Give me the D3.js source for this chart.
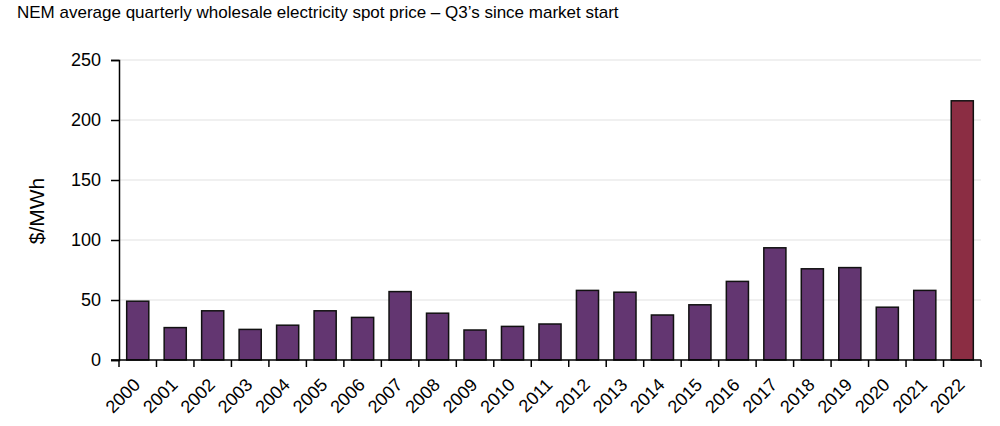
<!DOCTYPE html>
<html>
<head>
<meta charset="utf-8">
<script src="https://cdn.jsdelivr.net/npm/d3@7"></script>
<style>
  body { margin: 0; background: #fff; }
  text { font-family: "Liberation Sans", Arial, sans-serif; }
</style>
</head>
<body>
<script>
var svg_Width = 1000;
var svg_Height = 426;

// data
var years = ["2000", "2001", "2002", "2003", "2004", "2005", "2006", "2007", "2008", "2009", "2010", "2011",
  "2012", "2013", "2014", "2015", "2016", "2017", "2018", "2019", "2020", "2021", "2022"];
var prices = [49, 27, 41, 25.5, 29, 41, 35.5, 57, 39, 25, 28, 30,
  58, 56.5, 37.5, 46, 65.5, 93.5, 76, 77, 44, 58, 216];
var yTicks = [0, 50, 100, 150, 200, 250];

var margin = { top: 60, right: 19, bottom: 66, left: 119 };
var width = svg_Width - margin.left - margin.right;
var height = svg_Height - margin.top - margin.bottom;

var svg = d3.select("body")
  .append("svg")
  .attr("width", svg_Width)
  .attr("height", svg_Height);

// title
svg.append("text")
  .attr("x", 17)
  .attr("y", 18)
  .attr("font-size", "17px")
  .attr("fill", "#000")
  .text("NEM average quarterly wholesale electricity spot price \u2013 Q3\u2019s since market start");

var g = svg.append("g")
  .attr("transform", `translate(${margin.left}, ${margin.top})`);

var x = d3.scaleBand()
  .domain(years)
  .range([0, width])
  .paddingInner(0.41)
  .paddingOuter(0.205);

var y = d3.scaleLinear()
  .domain([0, 250])
  .range([height, 0]);

// gridlines
g.append("g")
  .selectAll("line")
  .data(yTicks.filter(d => d > 0))
  .enter()
  .append("line")
  .attr("x1", 0)
  .attr("x2", width)
  .attr("y1", d => y(d))
  .attr("y2", d => y(d))
  .attr("stroke", "#ebebeb")
  .attr("stroke-width", 1.5);

// bars
g.selectAll("rect.bar")
  .data(prices)
  .enter()
  .append("rect")
  .attr("class", "bar")
  .attr("x", (d, i) => x(years[i]))
  .attr("y", d => y(d))
  .attr("width", x.bandwidth())
  .attr("height", d => height - y(d))
  .attr("fill", (d, i) => years[i] === "2022" ? "#8b2d43" : "#633671")
  .attr("stroke", "#111")
  .attr("stroke-width", 1.5);

// y axis
var leftAxis = d3.axisLeft(y)
  .tickValues(yTicks)
  .tickSize(8)
  .tickPadding(10);

var yAxis = g.append("g").call(leftAxis);
yAxis.select(".domain").attr("stroke", "#000").attr("stroke-width", 1.5);
yAxis.selectAll(".tick line").attr("stroke", "#000").attr("stroke-width", 1.5);
yAxis.selectAll(".tick text")
  .attr("font-size", "18px")
  .attr("font-family", "Liberation Sans, Arial, sans-serif")
  .attr("fill", "#000");

// x axis: ticks at band boundaries
var xAxis = g.append("g")
  .attr("transform", `translate(0, ${height})`);

xAxis.append("line")
  .attr("x1", -8)
  .attr("x2", width)
  .attr("stroke", "#000")
  .attr("stroke-width", 1.5);

var step = x.step();
xAxis.selectAll("line.tick")
  .data(d3.range(years.length + 1))
  .enter()
  .append("line")
  .attr("class", "tick")
  .attr("x1", d => d * step)
  .attr("x2", d => d * step)
  .attr("y1", 0)
  .attr("y2", 7)
  .attr("stroke", "#000")
  .attr("stroke-width", 1.5);

xAxis.selectAll("text")
  .data(years)
  .enter()
  .append("text")
  .attr("transform", d => `translate(${x(d) + x.bandwidth() / 2 + 3.5}, 26) rotate(-45)`)
  .attr("text-anchor", "end")
  .attr("font-size", "18px")
  .attr("fill", "#000")
  .text(d => d);

// y axis label
svg.append("text")
  .attr("transform", `translate(44, ${margin.top + height / 2 + 1}) rotate(-90)`)
  .attr("text-anchor", "middle")
  .attr("font-size", "21px")
  .attr("fill", "#000")
  .text("$/MWh");
</script>
</body>
</html>
